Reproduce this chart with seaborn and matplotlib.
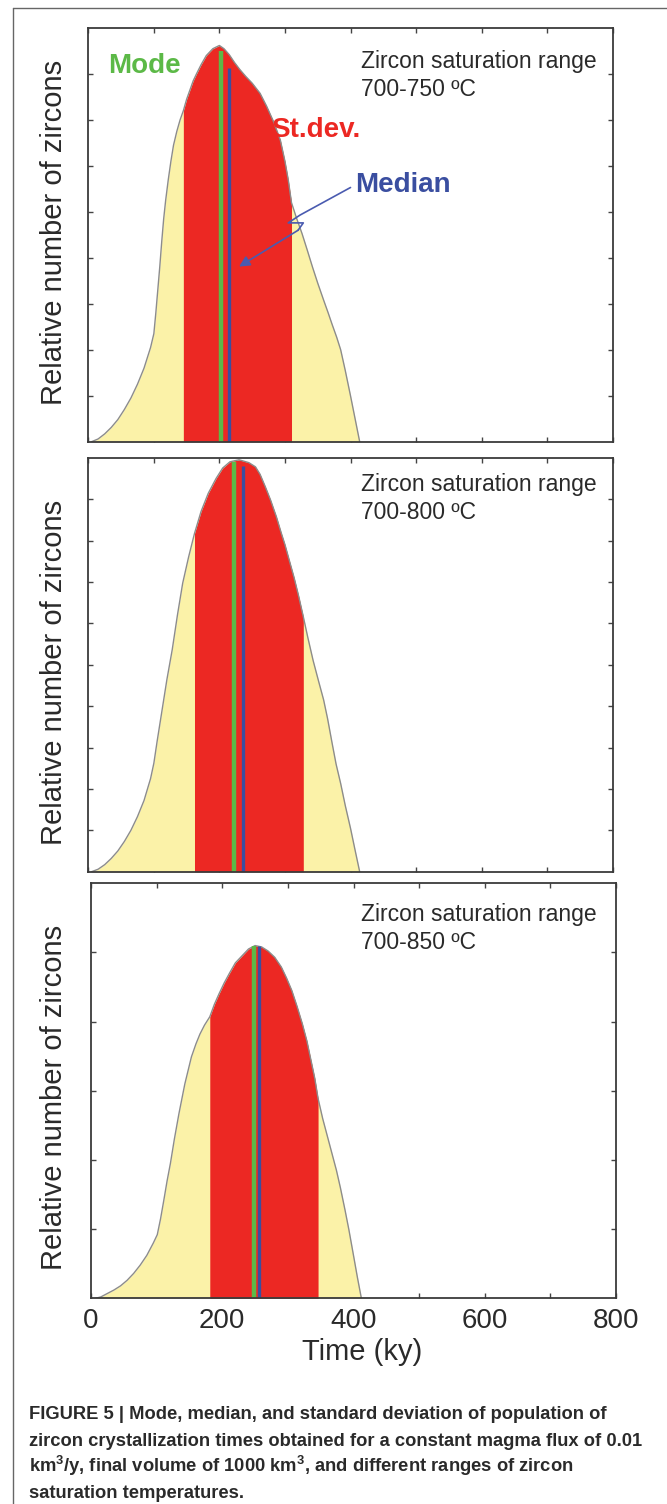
import numpy as np
import matplotlib
matplotlib.use("Agg")
import matplotlib.pyplot as plt
from matplotlib.lines import Line2D
import seaborn as sns

# zircon crystallisation-time distributions
time_750 = [5, 15, 25, 35, 45, 55, 65, 75, 85, 95, 100, 103, 106, 109, 112, 115, 118, 122,
            126, 130, 135, 140, 145, 150, 155, 160, 165, 172, 180, 190, 200, 207, 215, 223,
            231, 240, 250, 262, 272, 283, 293, 300, 305, 310, 318, 326, 334, 342, 350, 359,
            366, 372, 379, 385, 392, 400, 407, 414]
count_750 = [0, 0.06, 0.17, 0.31, 0.48, 0.7, 0.95, 1.25, 1.6, 2.05, 2.35, 2.8, 3.3, 3.8, 4.35,
             4.85, 5.25, 5.7, 6.1, 6.45, 6.75, 7.0, 7.2, 7.45, 7.65, 7.85, 8.0, 8.2, 8.4, 8.55,
             8.62, 8.55, 8.42, 8.25, 8.1, 7.95, 7.8, 7.58, 7.3, 6.95, 6.56, 6.1, 5.7, 5.2, 4.85,
             4.53, 4.17, 3.8, 3.45, 3.08, 2.8, 2.55, 2.27, 2.0, 1.55, 1.0, 0.5, 0]

time_800 = [5, 15, 25, 35, 45, 55, 65, 75, 85, 95, 100, 105, 110, 115, 120, 128, 136, 144,
            153, 162, 172, 183, 195, 205, 216, 230, 245, 255, 262, 270, 278, 287, 294, 300,
            307, 314, 321, 328, 335, 343, 351, 359, 365, 372, 378, 385, 392, 400, 407, 414]
count_800 = [0, 0.06, 0.17, 0.32, 0.5, 0.73, 1.0, 1.33, 1.72, 2.25, 2.62, 3.15, 3.65, 4.15,
             4.65, 5.36, 6.2, 6.97, 7.6, 8.17, 8.7, 9.14, 9.5, 9.75, 9.9, 9.95, 9.88, 9.78, 9.6,
             9.3, 8.98, 8.57, 8.2, 7.9, 7.5, 7.1, 6.65, 6.16, 5.65, 5.1, 4.62, 4.15, 3.7, 3.1,
             2.6, 2.13, 1.6, 1.05, 0.52, 0]

time_850 = [7, 15, 25, 35, 45, 55, 65, 75, 85, 95, 101, 106, 111, 116, 121, 127, 134, 143,
            153, 160, 166, 173, 181, 188, 195, 203, 211, 220, 230, 240, 250, 260, 270, 280,
            290, 298, 306, 314, 322, 329, 335, 341, 346, 353, 360, 367, 374, 380, 387, 393,
            400, 406, 412]
count_850 = [0, 0.02, 0.07, 0.12, 0.18, 0.26, 0.36, 0.48, 0.62, 0.8, 0.92, 1.15, 1.42, 1.7,
             1.95, 2.3, 2.67, 3.1, 3.49, 3.68, 3.82, 3.95, 4.07, 4.25, 4.4, 4.56, 4.7, 4.85,
             4.95, 5.05, 5.1, 5.08, 5.02, 4.93, 4.79, 4.63, 4.45, 4.22, 3.97, 3.72, 3.45, 3.18,
             2.89, 2.6, 2.35, 2.1, 1.85, 1.6, 1.28, 0.99, 0.62, 0.3, 0]

ranges = ["700-750 ºC", "700-800 ºC", "700-850 ºC"]
sd_low = [145, 162, 181]
sd_high = [310, 328, 346]
mode_time = [201.7, 223, 247.8]
mode_top = [8.5, 9.9, 5.1]
median_time = [214, 235.4, 255.6]
median_top = [8.14, 9.8, 5.1]

W, H = 667, 1504
YELLOW = "#fbf2a8"
RED = "#ec2823"
GREEN = "#5cb947"
BLUE = "#3a4ea0"
TXT = "#2a2a2a"

sns.set_style("white")
plt.rcParams["font.family"] = ["Liberation Sans", "DejaVu Sans"]
plt.rcParams["mathtext.fontset"] = "custom"
plt.rcParams["mathtext.rm"] = "Liberation Sans"
plt.rcParams["mathtext.bf"] = "Liberation Sans:bold"

fig = plt.figure(figsize=(W / 100, H / 100), dpi=100)


def fx(px):
    return px / W


def fy(py):
    return 1 - py / H


rects = [(88.3, 28, 612.7, 441.7), (88.3, 457.7, 612.7, 871.7), (91, 883.3, 616, 1298.3)]
ylims = [9, 10, 6]
times = [time_750, time_800, time_850]
counts = [count_750, count_800, count_850]
axes = []

for i in range(3):
    l, t, r, b = rects[i]
    ax = fig.add_axes([fx(l), fy(b), (r - l) / W, (b - t) / H])
    axes.append(ax)
    x = np.array(times[i])
    y = np.array(counts[i])
    ax.fill_between(x, 0, y, color=YELLOW, lw=0)
    inside = (x >= sd_low[i]) & (x <= sd_high[i])
    ax.fill_between(x, 0, y, where=inside, color=RED, lw=0)
    sns.lineplot(x=x, y=y, color="#8c8c8c", lw=1.0, ax=ax)
    ax.vlines(mode_time[i], 0, mode_top[i], color=GREEN, lw=3.2)
    ax.vlines(median_time[i], 0, median_top[i], color=BLUE, lw=2.4)

    ax.set_xlim(0, 800)
    ax.set_ylim(0, ylims[i])
    ax.set_xticks(range(0, 801, 100))
    ax.set_yticks(range(1, ylims[i]))
    ax.set_yticklabels([])
    if i == 2:
        ax.set_xticklabels(["0", "", "200", "", "400", "", "600", "", "800"])
    else:
        ax.set_xticklabels([])
    ax.tick_params(direction="in", length=3.5, width=1.0, color="#444444",
                   top=True, right=True, bottom=True, left=True,
                   labelsize=20, labelcolor=TXT, pad=7)
    for s in ax.spines.values():
        s.set_color("#3a3a3a")
        s.set_linewidth(1.3)
    ax.set_xlabel("")
    ax.set_ylabel("")

# panel texts
base1 = [68, 491, 921]
for i in range(3):
    fig.text(fx(361), fy(base1[i]), "Zircon saturation range", fontsize=16.5,
             color=TXT, va="baseline", ha="left")
    fig.text(fx(361), fy(base1[i] + 28), ranges[i], fontsize=16.5,
             color=TXT, va="baseline", ha="left")

for yc in [232, 672, 1097]:
    fig.text(fx(54), fy(yc), "Relative number of zircons", fontsize=21, color=TXT,
             rotation=90, ha="center", va="center")

fig.text(fx(362), fy(1360), "Time (ky)", fontsize=21, color=TXT, ha="center", va="baseline")

fig.text(fx(108), fy(73), "Mode", fontsize=20, fontweight="bold", color=GREEN, va="baseline")
fig.text(fx(271), fy(137), "St.dev.", fontsize=20, fontweight="bold", color=RED, va="baseline")
fig.text(fx(355), fy(192), "Median", fontsize=20, fontweight="bold", color=BLUE, va="baseline")

# median pointer with a little kink in it
ax = axes[0]
path_x = [400, 323, 305, 328, 320]
path_y = [5.53, 4.93, 4.76, 4.76, 4.6]
ax.plot(path_x, path_y, color="#4a5bb0", lw=1.2)
ax.annotate("", xy=(230, 3.81), xytext=(320, 4.6),
            arrowprops=dict(arrowstyle="-|>", color="#4a5bb0", lw=1.2,
                            mutation_scale=16, shrinkA=0, shrinkB=0))

# caption
cap = ["FIGURE 5 | Mode, median, and standard deviation of population of",
       "zircon crystallization times obtained for a constant magma flux of 0.01",
       r"km$^{\mathbf{3}}$/y, final volume of 1000 km$^{\mathbf{3}}$, and different ranges of zircon",
       "saturation temperatures."]
for k, line in enumerate(cap):
    fig.text(fx(29), fy(1419 + 26.5 * k), line, fontsize=13.2, fontweight="bold",
             color=TXT, va="baseline", ha="left")

# outer frame (left and top edges)
fig.add_artist(Line2D([fx(13), fx(13)], [fy(1504), fy(8)], color="#666666", lw=1.0))
fig.add_artist(Line2D([fx(13), 1.0], [fy(8), fy(8)], color="#666666", lw=1.0))

fig.savefig("out.png", dpi=100)
